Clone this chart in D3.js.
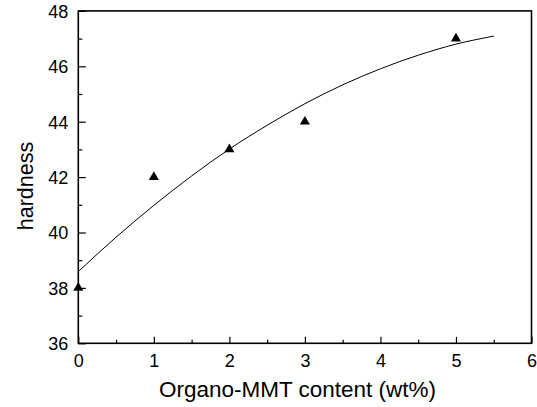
<!DOCTYPE html>
<html>
<head>
<meta charset="utf-8">
<script src="https://cdn.jsdelivr.net/npm/d3@7"></script>
<style>
html,body{margin:0;padding:0;background:#fff;}
svg{display:block;}
text{font-family:"Liberation Sans",Arial,Helvetica,sans-serif;fill:#000;}
</style>
</head>
<body>
<svg id="chart" width="537" height="407"></svg>
<script>
// Data
const contentX = [0, 1, 2, 3, 5];
const hardness = [38, 42, 43, 44, 47];
// Fitted curve
const fitX = [0, 0.5, 1, 1.5, 2, 2.5, 3, 3.5, 4, 4.5, 5, 5.5];
const fitY = [38.59, 39.83, 40.98, 42.04, 43.01, 43.87, 44.65, 45.33, 45.91, 46.40, 46.80, 47.09];
const xTicks = [0, 1, 2, 3, 4, 5, 6];
const xMinor = [0.5, 1.5, 2.5, 3.5, 4.5, 5.5];
const yTicks = [36, 38, 40, 42, 44, 46, 48];
const yMinor = [37, 39, 41, 43, 45, 47];
const xTitle = "Organo-MMT content (wt%)";
const yTitle = "hardness";

const svg = d3.select("#chart");
const L = 78.3, R = 531.5, T = 10.9, B = 343.3;
const x = d3.scaleLinear().domain([0, 6]).range([L, R]);
const y = d3.scaleLinear().domain([36, 48]).range([B, T]);

// x axis (ticks inward)
svg.append("g").attr("transform", `translate(0,${B})`)
  .call(d3.axisBottom(x).tickValues(xMinor).tickSize(-3.5).tickFormat(""))
  .call(g => g.select(".domain").remove())
  .call(g => g.selectAll("line").attr("stroke", "#000").attr("stroke-width", 1.2));
svg.append("g").attr("transform", `translate(0,${B})`)
  .call(d3.axisBottom(x).tickValues(xTicks).tickSize(-6.5).tickPadding(0).tickFormat(d3.format("d")))
  .call(g => g.select(".domain").remove())
  .call(g => g.selectAll("line").attr("stroke", "#000").attr("stroke-width", 1.2))
  .call(g => g.selectAll("text").attr("y", 0).attr("dy", "24px").attr("font-size", "18px").attr("fill", "#000"));

// y axis (ticks inward)
svg.append("g").attr("transform", `translate(${L},0)`)
  .call(d3.axisLeft(y).tickValues(yMinor).tickSize(-4).tickFormat(""))
  .call(g => g.select(".domain").remove())
  .call(g => g.selectAll("line").attr("stroke", "#000").attr("stroke-width", 1.2));
svg.append("g").attr("transform", `translate(${L},0)`)
  .call(d3.axisLeft(y).tickValues(yTicks).tickSize(-7.5).tickFormat(d3.format("d")))
  .call(g => g.select(".domain").remove())
  .call(g => g.selectAll("line").attr("stroke", "#000").attr("stroke-width", 1.2))
  .call(g => g.selectAll("text").attr("x", -10).attr("dy", "0.36em").attr("font-size", "18px").attr("fill", "#000"));

// frame
svg.append("rect").attr("x", L).attr("y", T).attr("width", R - L).attr("height", B - T)
  .attr("fill", "none").attr("stroke", "#000").attr("stroke-width", 1.6);

// fitted curve
const line = d3.line().x((d, i) => x(fitX[i])).y(d => y(d)).curve(d3.curveMonotoneX);
svg.append("path").attr("d", line(fitY)).attr("fill", "none").attr("stroke", "#000").attr("stroke-width", 1);

// points
svg.selectAll(".pt").data(hardness).enter().append("path")
  .attr("class", "pt")
  .attr("d", d3.symbol().type(d3.symbolTriangle).size(44))
  .attr("transform", (d, i) => `translate(${x(contentX[i])},${y(d)})`)
  .attr("fill", "#000");

// titles
svg.append("text").attr("x", 297.5).attr("y", 397).attr("text-anchor", "middle")
  .attr("font-size", "22.5px").text(xTitle);
svg.append("text").attr("transform", "translate(33,186) rotate(-90)").attr("text-anchor", "middle")
  .attr("font-size", "21.5px").text(yTitle);
</script>
</body>
</html>
